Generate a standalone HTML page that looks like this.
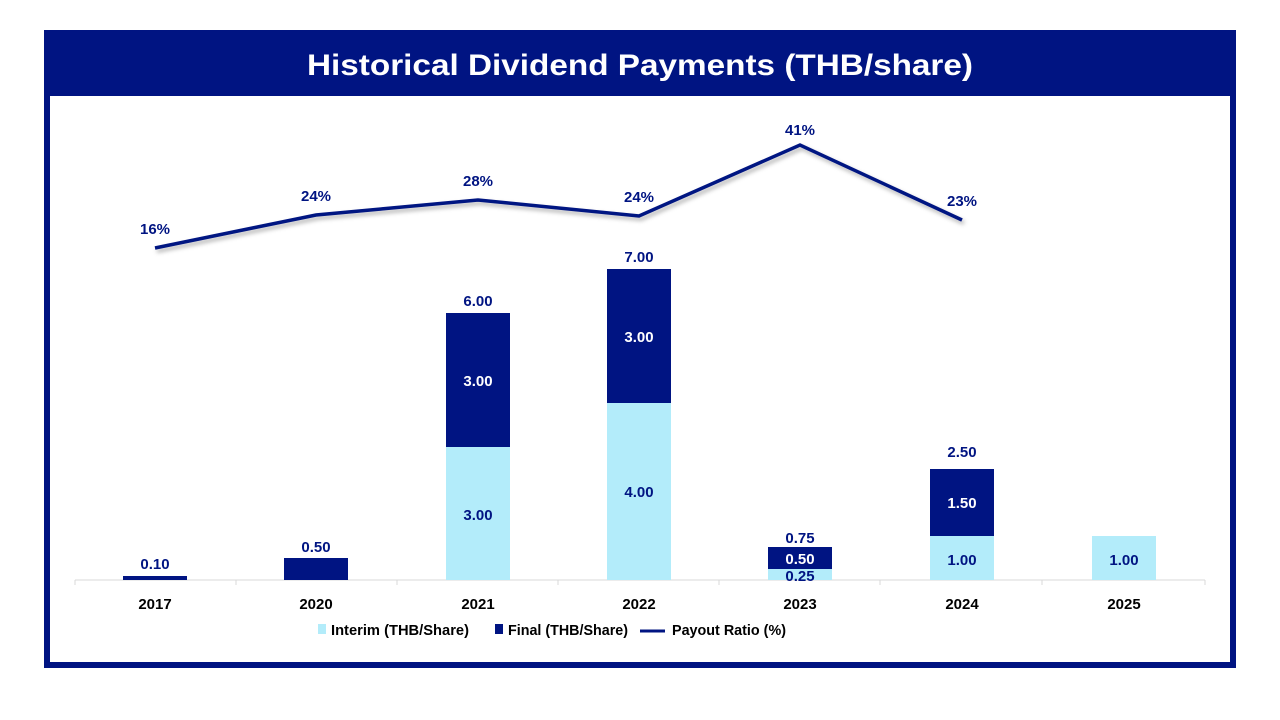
<!DOCTYPE html>
<html><head><meta charset="utf-8"><style>
html,body{margin:0;padding:0;background:#fff;width:1280px;height:720px;overflow:hidden}
svg{display:block}
text{font-family:"Liberation Sans",sans-serif;font-weight:bold}
</style></head><body>
<svg width="1280" height="720" viewBox="0 0 1280 720">
<defs><filter id="sh" x="-10%" y="-50%" width="120%" height="200%"><feDropShadow dx="2" dy="3" stdDeviation="2" flood-color="#000" flood-opacity="0.3"/></filter></defs>
<rect x="47" y="33" width="1186" height="632" fill="#fff" stroke="#001482" stroke-width="6"/>
<rect x="44" y="30" width="1192" height="66" fill="#001482"/>
<text x="307" y="75" fill="#fff" font-size="30" textLength="666" lengthAdjust="spacingAndGlyphs">Historical Dividend Payments (THB/share)</text>
<line x1="75" y1="580" x2="1205" y2="580" stroke="#d9d9d9"/>
<g stroke="#d9d9d9"><line x1="75" y1="580" x2="75" y2="585"/><line x1="236" y1="580" x2="236" y2="585"/><line x1="397" y1="580" x2="397" y2="585"/><line x1="558" y1="580" x2="558" y2="585"/><line x1="719" y1="580" x2="719" y2="585"/><line x1="880" y1="580" x2="880" y2="585"/><line x1="1042" y1="580" x2="1042" y2="585"/><line x1="1205" y1="580" x2="1205" y2="585"/></g>
<rect x="123" y="576" width="64" height="4" fill="#001482"/>
<rect x="284" y="558" width="64" height="22" fill="#001482"/>
<rect x="446" y="447" width="64" height="133" fill="#b3ecfa"/>
<rect x="446" y="313" width="64" height="134" fill="#001482"/>
<rect x="607" y="403" width="64" height="177" fill="#b3ecfa"/>
<rect x="607" y="269" width="64" height="134" fill="#001482"/>
<rect x="768" y="569" width="64" height="11" fill="#b3ecfa"/>
<rect x="768" y="547" width="64" height="22" fill="#001482"/>
<rect x="930" y="536" width="64" height="44" fill="#b3ecfa"/>
<rect x="930" y="469" width="64" height="67" fill="#001482"/>
<rect x="1092" y="536" width="64" height="44" fill="#b3ecfa"/>
<g font-size="15" text-anchor="middle" fill="#001482">
<text x="155" y="569">0.10</text>
<text x="316" y="552">0.50</text>
<text x="478" y="306">6.00</text>
<text x="639" y="262">7.00</text>
<text x="800" y="543">0.75</text>
<text x="962" y="457">2.50</text>
<text x="478" y="520">3.00</text>
<text x="639" y="497">4.00</text>
<text x="800" y="581">0.25</text>
<text x="962" y="565">1.00</text>
<text x="1124" y="565">1.00</text>
</g>
<g font-size="15" text-anchor="middle" fill="#fff">
<text x="478" y="386">3.00</text>
<text x="639" y="342">3.00</text>
<text x="800" y="564">0.50</text>
<text x="962" y="508">1.50</text>
</g>
<polyline points="155,248 316,215 478,200 639,216 800,145 962,220" fill="none" stroke="#001482" stroke-width="3.5" filter="url(#sh)"/>
<g font-size="15" text-anchor="middle" fill="#001482">
<text x="155" y="234">16%</text>
<text x="316" y="201">24%</text>
<text x="478" y="186">28%</text>
<text x="639" y="202">24%</text>
<text x="800" y="135">41%</text>
<text x="962" y="206">23%</text>
</g>
<g font-size="15" text-anchor="middle" fill="#000">
<text x="155" y="609">2017</text><text x="316" y="609">2020</text><text x="478" y="609">2021</text><text x="639" y="609">2022</text><text x="800" y="609">2023</text><text x="962" y="609">2024</text><text x="1124" y="609">2025</text>
</g>
<rect x="318" y="624" width="8" height="10" fill="#b3ecfa"/>
<text x="331" y="635" font-size="15" fill="#000" textLength="138" lengthAdjust="spacingAndGlyphs">Interim (THB/Share)</text>
<rect x="495" y="624" width="8" height="10" fill="#001482"/>
<text x="508" y="635" font-size="15" fill="#000" textLength="120" lengthAdjust="spacingAndGlyphs">Final (THB/Share)</text>
<line x1="640" y1="631" x2="665" y2="631" stroke="#001482" stroke-width="3"/>
<text x="672" y="635" font-size="15" fill="#000" textLength="114" lengthAdjust="spacingAndGlyphs">Payout Ratio (%)</text>
</svg>
</body></html>
